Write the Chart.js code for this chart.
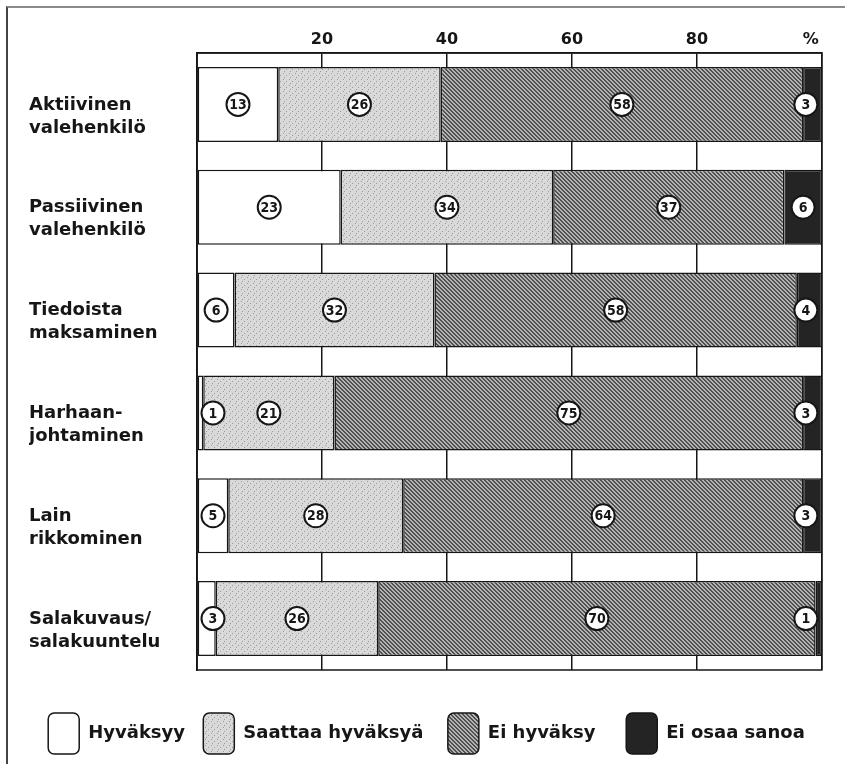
<!DOCTYPE html>
<html>
<head>
<meta charset="utf-8">
<script src="https://cdn.jsdelivr.net/npm/chart.js@4.4.1/dist/chart.umd.min.js"></script>
<style>
html, body { margin: 0; padding: 0; background: #fff; }
#wrap { position: relative; width: 845px; height: 764px; }
#page { position: absolute; left: 6px; top: 6px; right: 0; bottom: 0; border-left: 2px solid #444; border-top: 2px solid #8a8a8a; }
#chart { position: absolute; left: 0; top: 0; }
</style>
</head>
<body>
<div id="wrap">
  <div id="page"></div>
  <canvas id="chart" width="845" height="764"></canvas>
</div>
<script>
const CATEGORIES = [
    ['Aktiivinen', 'valehenkilö'],
    ['Passiivinen', 'valehenkilö'],
    ['Tiedoista', 'maksaminen'],
    ['Harhaan-', 'johtaminen'],
    ['Lain', 'rikkominen'],
    ['Salakuvaus/', 'salakuuntelu']
]
const SERIES = ['Hyväksyy', 'Saattaa hyväksyä', 'Ei hyväksy', 'Ei osaa sanoa']
const HYVAKSYY = [13, 23, 6, 1, 5, 3]
const SAATTAA = [26, 34, 32, 21, 28, 26]
const EI_HYVAKSY = [58, 37, 58, 75, 64, 70]
const EI_OSAA = [3, 6, 4, 3, 3, 1]
const TICK_LABELS = ['', '20', '40', '60', '80', '%    ']

const INK = '#161616'
// extra space after each legend entry, to spread them like the print
const LEGEND_GAP = [1, 2, 3, 0]

// small tiles to imitate the printed screens
function makePattern(rows, colors){
    const c = document.createElement('canvas')
    c.width = rows[0].length
    c.height = rows.length
    const g = c.getContext('2d')
    rows.forEach((row, y) => {
        for (let x = 0; x < row.length; x++){
            g.fillStyle = colors[row[x]]
            g.fillRect(x, y, 1, 1)
        }
    })
    return g.createPattern(c, 'repeat')
}

const lightFill = makePattern(
    ['aaaaaa', 'abaaaa', 'aaaaaa', 'aaaaba', 'aaaaaa', 'aabaaa'],
    {a: '#d9d9d9', b: '#9a9a9a'})
const darkFill = makePattern(
    ['ddll', 'lddl', 'lldd', 'dlld'],
    {d: '#505050', l: '#b4b4b4'})

function dataset(label, values, fill){
    return {
        label: label,
        data: values,
        backgroundColor: fill,
        borderColor: INK,
        borderWidth: 1.5,
        borderSkipped: false,
        barPercentage: 0.73,
        categoryPercentage: 1
    }
}

// outline of the plot area, drawn over the bars
const frame = {
    id: 'frame',
    afterDatasetsDraw(chart){
        const {ctx, chartArea: a} = chart
        ctx.save()
        ctx.strokeStyle = INK
        ctx.lineWidth = 1.5
        ctx.strokeRect(a.left, a.top, a.right - a.left, a.bottom - a.top)
        ctx.restore()
    }
}

// circled value in the middle of every segment
const circleLabels = {
    id: 'circleLabels',
    afterDatasetsDraw(chart){
        const {ctx, chartArea: a} = chart
        ctx.save()
        chart.data.datasets.forEach((ds, i) => {
            chart.getDatasetMeta(i).data.forEach((bar, j) => {
                let cx = (bar.x + bar.base) / 2
                cx = Math.min(Math.max(cx, a.left + 16), a.right - 16)
                const cy = bar.y
                ctx.beginPath()
                ctx.arc(cx, cy, 11.5, 0, Math.PI * 2)
                ctx.fillStyle = '#fff'
                ctx.fill()
                ctx.lineWidth = 2
                ctx.strokeStyle = INK
                ctx.stroke()
                ctx.fillStyle = INK
                ctx.font = 'bold 14px "Liberation Sans Narrow", "DejaVu Sans Condensed", "Liberation Sans", sans-serif'
                ctx.textAlign = 'center'
                ctx.textBaseline = 'middle'
                ctx.fillText(String(ds.data[j]), cx, cy + 1)
            })
        })
        ctx.restore()
    }
}

new Chart(document.getElementById('chart'), {
    type: 'bar',
    data: {
        labels: CATEGORIES,
        datasets: [
            dataset(SERIES[0], HYVAKSYY, '#ffffff'),
            dataset(SERIES[1], SAATTAA, lightFill),
            dataset(SERIES[2], EI_HYVAKSY, darkFill),
            dataset(SERIES[3], EI_OSAA, '#242424')
        ]
    },
    options: {
        indexAxis: 'y',
        responsive: false,
        animation: false,
        layout: {padding: {left: 29, right: 21, top: 0, bottom: 0}},
        scales: {
            x: {
                stacked: true,
                position: 'top',
                min: 0,
                max: 100,
                ticks: {
                    stepSize: 20,
                    padding: 4,
                    color: INK,
                    font: {family: 'DejaVu Sans', weight: 'bold', size: 16},
                    callback: v => TICK_LABELS[v / 20]
                },
                grid: {color: INK, lineWidth: 1.5, drawTicks: false},
                border: {color: INK, width: 1.5},
                afterFit: s => { s.height = 53 }
            },
            x2: {
                type: 'linear',
                axis: 'x',
                position: 'bottom',
                display: true,
                ticks: {display: false},
                grid: {display: false},
                border: {display: false},
                afterFit: s => { s.height = 31 }
            },
            y: {
                stacked: true,
                ticks: {
                    crossAlign: 'far',
                    labelOffset: 12,
                    color: INK,
                    font: {family: 'DejaVu Sans', weight: 'bold', size: 18, lineHeight: 1.28}
                },
                grid: {display: false},
                border: {color: INK, width: 1.5},
                afterFit: s => { s.width = 168 }
            }
        },
        plugins: {
            legend: {
                position: 'bottom',
                labels: {
                    boxWidth: 31,
                    boxHeight: 41,
                    padding: 12,
                    useBorderRadius: true,
                    borderRadius: 6,
                    color: INK,
                    font: {family: 'DejaVu Sans', weight: 'bold', size: 18},
                    generateLabels: chart => {
                        const items = Chart.defaults.plugins.legend.labels.generateLabels(chart)
                        items.forEach((it, i) => { it.text = it.text + ' '.repeat(LEGEND_GAP[i]) })
                        return items
                    }
                }
            },
            tooltip: {enabled: false}
        }
    },
    plugins: [frame, circleLabels]
})
</script>
</body>
</html>
